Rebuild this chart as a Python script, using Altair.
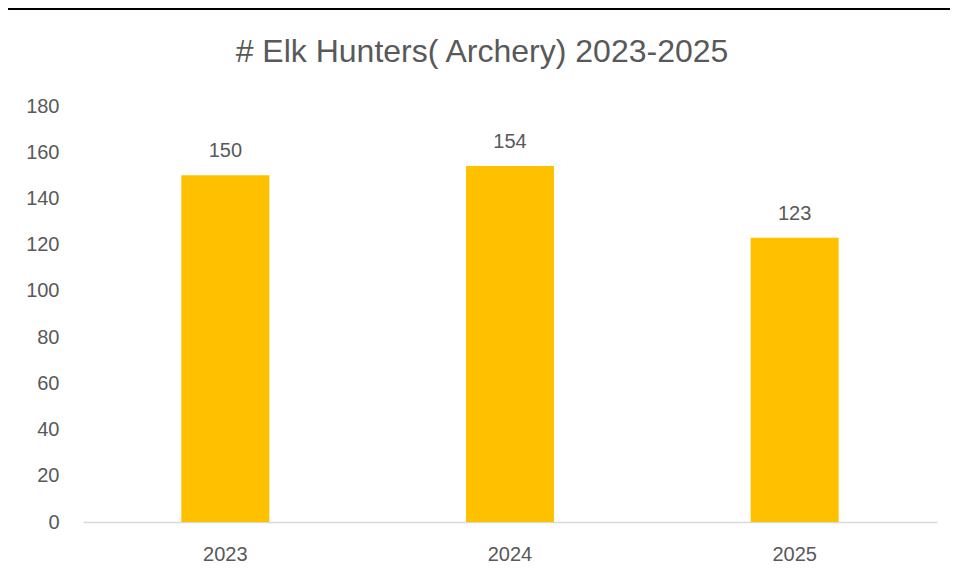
import altair as alt
import pandas as pd

years = ["2023", "2024", "2025"]
hunters = [150, 154, 123]
y_ticks = [0, 20, 40, 60, 80, 100, 120, 140, 160, 180]
title_text = "# Elk Hunters( Archery) 2023-2025"

df = pd.DataFrame({"year": years, "hunters": hunters})

TEXT = "#595959"
FONT = "Liberation Sans"

base = alt.Chart(df)

bars = base.mark_bar(color="#FFC000", size=88).encode(
    x=alt.X(
        "year:N",
        sort=years,
        scale=alt.Scale(paddingInner=0, paddingOuter=0),
        axis=alt.Axis(
            title=None,
            labelAngle=0,
            labelFontSize=20,
            labelColor=TEXT,
            labelFont=FONT,
            labelPadding=22,
            ticks=False,
            domainColor="#D9D9D9",
            domainWidth=1.5,
        ),
    ),
    y=alt.Y(
        "hunters:Q",
        scale=alt.Scale(domain=[0, 180]),
        axis=alt.Axis(
            title=None,
            values=y_ticks,
            grid=False,
            domain=False,
            ticks=False,
            labelFontSize=20,
            labelColor=TEXT,
            labelFont=FONT,
            labelPadding=24,
        ),
    ),
)

labels = base.mark_text(
    baseline="bottom", dy=-14, fontSize=20, color=TEXT, font=FONT
).encode(x=alt.X("year:N", sort=years), y="hunters:Q", text="hunters:Q")

border_top = alt.Chart(df.head(1)).mark_rect(color="black").encode(
    x=alt.value(-75), x2=alt.value(870), y=alt.value(-99), y2=alt.value(-96)
)

chart = (
    alt.layer(bars, labels, border_top)
    .properties(
        width=854,
        height=416,
        autosize=alt.AutoSizeParams(type="none"),
        padding={"left": 75, "top": 98, "right": 13, "bottom": 52},
        title=alt.TitleParams(
            text=title_text,
            fontSize=32,
            font=FONT,
            fontWeight="normal",
            color=TEXT,
            anchor="middle",
            dx=-28,
            offset=-62,
        ),
    )
    .configure(background="white", view=alt.ViewConfig(strokeWidth=0))
)

chart.save("out.html", embed_options={"renderer": "svg", "actions": False})
